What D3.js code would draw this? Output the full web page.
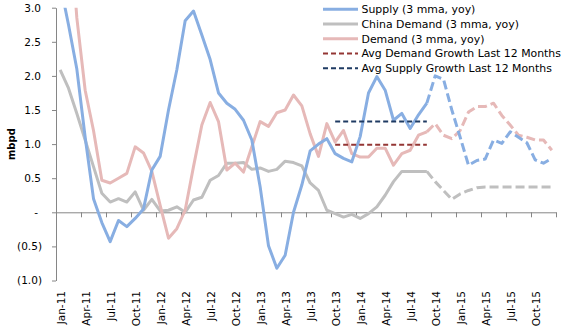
<!DOCTYPE html>
<html><head><meta charset="utf-8">
<script src="https://cdn.jsdelivr.net/npm/d3@7"></script>
<style>
html,body{margin:0;padding:0;background:#fff;}
svg{display:block;font-family:"DejaVu Sans",sans-serif;}
</style></head>
<body><svg id="chart" width="574" height="328"></svg>
<script>
// ---- data ----
const months = ["Jan-11","Feb-11","Mar-11","Apr-11","May-11","Jun-11","Jul-11","Aug-11","Sep-11","Oct-11","Nov-11","Dec-11",
"Jan-12","Feb-12","Mar-12","Apr-12","May-12","Jun-12","Jul-12","Aug-12","Sep-12","Oct-12","Nov-12","Dec-12",
"Jan-13","Feb-13","Mar-13","Apr-13","May-13","Jun-13","Jul-13","Aug-13","Sep-13","Oct-13","Nov-13","Dec-13",
"Jan-14","Feb-14","Mar-14","Apr-14","May-14","Jun-14","Jul-14","Aug-14","Sep-14","Oct-14","Nov-14","Dec-14",
"Jan-15","Feb-15","Mar-15","Apr-15","May-15","Jun-15","Jul-15","Aug-15","Sep-15","Oct-15","Nov-15","Dec-15"];
const supply = [3.35,2.75,2.1,1.1,0.2,-0.15,-0.43,-0.12,-0.21,-0.09,0.05,0.62,
0.82,1.5,2.09,2.81,2.95,2.6,2.24,1.75,1.6,1.51,1.35,1.06,
0.37,-0.49,-0.82,-0.63,0.0,0.4,0.9,1.0,1.08,0.86,0.79,0.74,
1.11,1.75,1.99,1.79,1.35,1.45,1.23,1.43,1.6,2.0,1.95,1.5,
1.1,0.69,0.76,0.78,1.06,1.01,1.18,1.1,1.02,0.77,0.72,0.79];
const chinaDemand = [2.09,1.82,1.45,1.06,0.67,0.28,0.15,0.2,0.15,0.3,0.03,0.19,
0.02,0.03,0.08,0.0,0.18,0.22,0.47,0.54,0.72,0.72,0.73,0.63,
0.65,0.6,0.63,0.75,0.73,0.68,0.43,0.32,0.03,-0.02,-0.07,-0.03,
-0.09,-0.02,0.08,0.25,0.45,0.6,0.6,0.6,0.6,0.45,0.32,0.19,
0.27,0.32,0.36,0.37,0.37,0.37,0.37,0.37,0.37,0.37,0.37,0.37];
const demand = [4.8,4.5,2.85,1.79,1.2,0.47,0.43,0.5,0.57,0.96,0.87,0.6,
0.1,-0.38,-0.24,0.03,0.67,1.28,1.61,1.33,0.62,0.72,0.59,0.96,
1.33,1.26,1.46,1.5,1.72,1.56,1.15,0.82,1.3,1.03,1.2,0.86,
0.81,0.81,0.94,0.94,0.69,0.86,0.91,1.13,1.18,1.3,1.13,1.08,
1.2,1.47,1.55,1.55,1.6,1.42,1.28,1.13,1.1,1.06,1.06,0.91];
const avgMonths = ["Oct-13","Nov-13","Dec-13","Jan-14","Feb-14","Mar-14","Apr-14","May-14","Jun-14","Jul-14","Aug-14","Sep-14"];
const avgDemand = 0.99;
const avgSupply = 1.33;
const forecastStart = "Sep-14";
const yTicks = [-1,-0.5,0,0.5,1,1.5,2,2.5,3];
const legendLabels = ["Supply (3 mma, yoy)","China Demand (3 mma, yoy)","Demand (3 mma, yoy)","Avg Demand Growth Last 12 Months","Avg Supply Growth Last 12 Months"];

// ---- layout ----
const L = 56, R = 556, T = 7.7, B = 280.5;
const svg = d3.select("#chart");
const x = d3.scaleBand().domain(months).range([L, R]);
const xi = d3.scaleLinear().domain([0, months.length]).range([L, R]);
const y = d3.scaleLinear().domain([-1, 3]).range([B, T]);
const cx = m => x(m) + x.bandwidth() / 2;

const C = {supply:"#88AEE2", china:"#BFBFBF", demand:"#E6B9B8", avgD:"#943634", avgS:"#1F3B63", axis:"#868686"};

svg.append("defs").append("clipPath").attr("id","clip")
  .append("rect").attr("x", L).attr("y", T).attr("width", R - L).attr("height", B - T);

// y axis
const fmt = v => v === 0 ? "-" : (v < 0 ? "(" + d3.format(".1f")(-v) + ")" : d3.format(".1f")(v));
const ya = svg.append("g").attr("transform", `translate(${L},0)`)
  .call(d3.axisLeft(y).tickValues(yTicks).tickFormat(fmt).tickSize(4).tickSizeOuter(0).tickPadding(10.5));
ya.select(".domain").attr("stroke", C.axis);
ya.selectAll(".tick line").attr("stroke", C.axis);
ya.selectAll(".tick text").attr("font-size", "10.5px").attr("fill", "#000")
  .attr("font-family", "DejaVu Sans")
  .attr("dx", d => d === 0 ? -3.5 : (d < 0 ? 0.5 : -0.5));

// y title
svg.append("text").attr("transform", `translate(15,${(T + B) / 2}) rotate(-90)`)
  .attr("text-anchor", "middle").attr("font-size", "10px").attr("font-weight", "bold").text("mbpd");

// x axis line at zero with ticks every 3 months
const tickIdx = d3.range(0, months.length + 1, 3);
const xa = svg.append("g").attr("transform", `translate(0,${y(0)})`)
  .call(d3.axisBottom(xi).tickValues(tickIdx).tickFormat("").tickSize(5).tickSizeOuter(0));
xa.select(".domain").attr("stroke", C.axis);
xa.selectAll(".tick line").attr("stroke", C.axis);

// x labels at bottom
const labelMonths = months.filter((m, i) => i % 3 === 0);
const xl = svg.append("g").attr("transform", `translate(0,291)`)
  .call(d3.axisBottom(x).tickValues(labelMonths).tickSize(0).tickPadding(0));
xl.select(".domain").remove();
xl.selectAll(".tick text").attr("font-size", "10.5px").attr("fill", "#000")
  .attr("font-family", "DejaVu Sans")
  .attr("text-anchor", "end").attr("transform", "rotate(-90)")
  .attr("x", 0).attr("y", 0).attr("dy", "0.5em");

// lines
const plot = svg.append("g").attr("clip-path", "url(#clip)");
const fi = months.indexOf(forecastStart);
const line = d3.line().x(d => cx(d.m)).y(d => y(d.v));
function series(vals, color) {
  const pts = vals.map((v, i) => ({m: months[i], v}));
  plot.append("path").datum(pts.slice(0, fi + 1)).attr("d", line)
    .attr("fill", "none").attr("stroke", color).attr("stroke-width", 3).attr("stroke-linejoin", "round");
  plot.append("path").datum(pts.slice(fi)).attr("d", line)
    .attr("fill", "none").attr("stroke", color).attr("stroke-width", 3).attr("stroke-dasharray", "9,4")
    .attr("stroke-linejoin", "round");
}
series(chinaDemand, C.china);
series(demand, C.demand);
series(supply, C.supply);

function avgLine(val, color) {
  plot.append("path").datum(avgMonths.map(m => ({m, v: val}))).attr("d", line)
    .attr("fill", "none").attr("stroke", color).attr("stroke-width", 2).attr("stroke-dasharray", "5,3");
}
avgLine(avgDemand, C.avgD);
avgLine(avgSupply, C.avgS);

// legend
const legColors = [C.supply, C.china, C.demand, C.avgD, C.avgS];
const leg = svg.append("g");
legendLabels.forEach((t, i) => {
  const yy = 9.3 + i * 14.75;
  leg.append("line").attr("x1", 323).attr("x2", 358).attr("y1", yy).attr("y2", yy)
    .attr("stroke", legColors[i]).attr("stroke-width", i < 3 ? 3 : 2)
    .attr("stroke-dasharray", i < 3 ? null : "5,3");
  leg.append("text").attr("x", 361.5).attr("y", yy).attr("dy", "0.35em")
    .attr("font-size", "10.9px").attr("fill", "#000").text(t);
});
</script></body></html>
